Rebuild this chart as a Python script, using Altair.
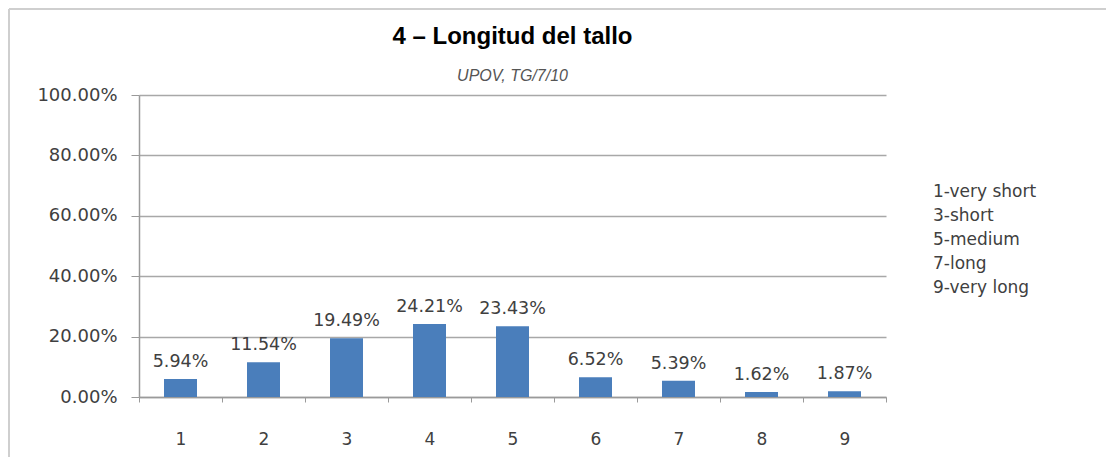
import altair as alt
import pandas as pd

categories = ["1", "2", "3", "4", "5", "6", "7", "8", "9"]
values = [0.0594, 0.1154, 0.1949, 0.2421, 0.2343, 0.0652, 0.0539, 0.0162, 0.0187]
legend_lines = ["1-very short", "3-short", "5-medium", "7-long", "9-very long"]
title_text = "4 – Longitud del tallo"
subtitle_text = "UPOV, TG/7/10"

df = pd.DataFrame({"cat": categories, "val": values})
FONT = "DejaVu Sans"
TXT = "#404040"
W, H = 747, 302

x_enc = alt.X("cat:N", sort=categories, title=None,
              scale=alt.Scale(paddingInner=0, paddingOuter=0),
              axis=alt.Axis(labelAngle=0, labelFont=FONT, labelFontSize=17, labelColor=TXT,
                            domainColor="#9a9a9a", domainWidth=1.5, tickColor="#9a9a9a",
                            tickSize=5, tickBand="extent", labelPadding=29, grid=False))
y_enc = alt.Y("val:Q", title=None,
              scale=alt.Scale(domain=[0, 1]),
              axis=alt.Axis(format=".2%", values=[0, 0.2, 0.4, 0.6, 0.8, 1.0],
                            labelFont=FONT, labelFontSize=18, labelColor=TXT,
                            labelPadding=14, tickSize=8, tickColor="#9a9a9a",
                            domainColor="#9a9a9a", domainWidth=1.5,
                            gridColor="#a8a8a8", gridWidth=1.5))

base = alt.Chart(df)
bars = base.mark_bar(size=33, color="#4a7ebb").encode(x=x_enc, y=y_enc)
labels = base.mark_text(dy=-8, baseline="bottom", font=FONT, fontSize=17.5, color=TXT).encode(
    x=alt.X("cat:N", sort=categories), y="val:Q", text=alt.Text("val:Q", format=".2%"))

one = pd.DataFrame({"t": [legend_lines], "title": [title_text], "sub": [subtitle_text]})
legend = alt.Chart(one).mark_text(align="left", baseline="middle", font=FONT, fontSize=17,
                                  color=TXT, lineHeight=24).encode(
    x=alt.value(794), y=alt.value(97), text="t")
title = alt.Chart(one).mark_text(align="center", baseline="middle", font="Liberation Sans",
                                 fontSize=24, fontWeight="bold", color="#000000").encode(
    x=alt.value(W / 2), y=alt.value(-58), text="title")
subtitle = alt.Chart(one).mark_text(align="center", baseline="middle", font="Liberation Sans",
                                    fontSize=16, fontStyle="italic", color="#555555").encode(
    x=alt.value(W / 2), y=alt.value(-19), text="sub")

border_top = alt.Chart(one).mark_rule(color="#cfcfcf", strokeWidth=2).encode(
    x=alt.value(-130), x2=alt.value(W + 220), y=alt.value(-86))
border_left = alt.Chart(one).mark_rule(color="#cfcfcf", strokeWidth=2).encode(
    x=alt.value(-130), y=alt.value(-86), y2=alt.value(H + 60))

chart = alt.layer(bars, labels, legend, title, subtitle, border_top, border_left).properties(
    width=W, height=H,
    padding={"left": 131, "top": 87, "right": 221, "bottom": 62},
    autosize=alt.AutoSizeParams(type="none"),
).configure_view(stroke=None)

chart.save("out.html", embed_options={"renderer": "svg", "actions": False})
